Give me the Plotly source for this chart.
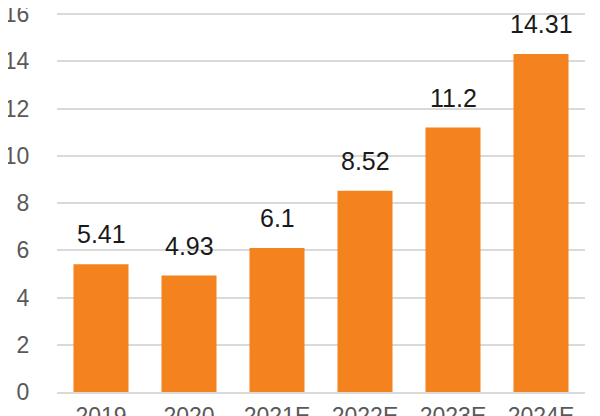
import plotly.graph_objects as go

categories = ["2019", "2020", "2021E", "2022E", "2023E", "2024E"]
values = [5.41, 4.93, 6.1, 8.52, 11.2, 14.31]
labels = ["5.41", "4.93", "6.1", "8.52", "11.2", "14.31"]
y_ticks = [0, 2, 4, 6, 8, 10, 12, 14, 16]

fig = go.Figure(go.Bar(
    x=categories, y=values,
    marker=dict(color="#F4821F", line=dict(width=0)),
    cliponaxis=False,
))
for i, (v, t) in enumerate(zip(values, labels)):
    fig.add_annotation(x=i, y=v, xref="x", yref="y", text=t, showarrow=False,
                       yanchor="bottom", yshift=14,
                       font=dict(size=25, color="#1a1a1a", family="Liberation Sans"))
fig.update_layout(
    width=600, height=416,
    margin=dict(l=49, r=23, t=5, b=32),
    paper_bgcolor="white", plot_bgcolor="white",
    bargap=0.375, showlegend=False,
    font=dict(family="Liberation Sans", size=23, color="#595959"),
    yaxis=dict(range=[0, 16.05], tickvals=y_ticks, showgrid=True, gridcolor="#d9d9d9",
               gridwidth=1.5, zeroline=False, showline=False,
               ticks="outside", ticklen=22, tickcolor="rgba(0,0,0,0)",
               ticklabeloverflow="allow",
               automargin=False, tickfont=dict(size=23, color="#595959")),
    xaxis=dict(type="category", range=[-0.5, 5.5], showline=True, linecolor="#d9d9d9",
               linewidth=1.5, automargin=False, ticks="outside", ticklen=3,
               ticklabeloverflow="allow",
               tickcolor="rgba(0,0,0,0)", tickfont=dict(size=23, color="#595959")),
)
fig.write_html("out.html")
